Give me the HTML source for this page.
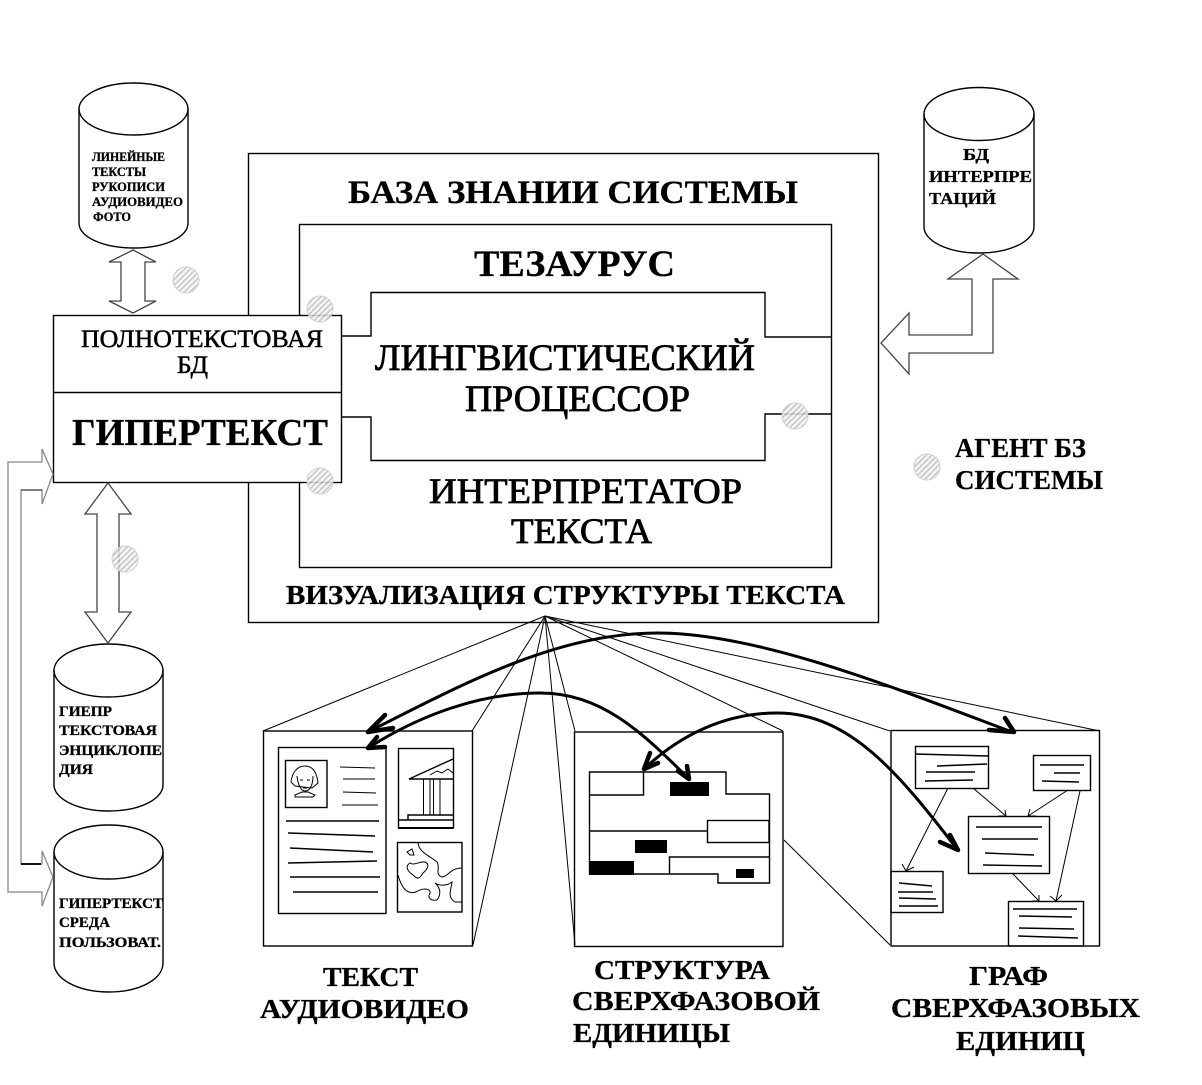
<!DOCTYPE html>
<html lang="ru"><head><meta charset="utf-8"><title>База знаний системы</title>
<style>
html,body{margin:0;padding:0;background:#fff}
svg{display:block}
text{font-family:"Liberation Serif","Noto Serif CJK SC",serif;fill:#000}
.b{font-weight:bold;stroke:#000;stroke-width:.3}
.s{fill:none;stroke:#000;stroke-width:1.4}
.t{fill:none;stroke:#000;stroke-width:1}
.g{fill:#fff;stroke:#444;stroke-width:1.3}
.c{fill:none;stroke:#000;stroke-width:3;stroke-linejoin:round;stroke-linecap:round}
.h{fill:none;stroke:#000;stroke-width:4.5;stroke-linecap:round}
</style></head><body>
<svg width="1202" height="1085" viewBox="0 0 1202 1085" xmlns="http://www.w3.org/2000/svg">
<defs>
<pattern id="hat" width="4" height="4" patternUnits="userSpaceOnUse" patternTransform="rotate(45)">
<rect width="4" height="4" fill="#f4f4f4"/><rect width="1.6" height="4" fill="#bdbdbd"/>
</pattern>
</defs>
<rect width="1202" height="1085" fill="#fff"/>

<!-- main boxes -->
<rect class="s" x="248.5" y="153.5" width="630" height="469"/>
<rect class="s" x="299.5" y="224.5" width="532" height="343"/>
<path class="s" d="M341 336H371V292.500H765V337H831"/>
<path class="s" d="M341 417H371V460.500H765V414H831"/>

<!-- left top box -->
<rect x="53.500" y="315.500" width="288" height="167" fill="#fff" stroke="#000" stroke-width="1.4"/>
<path class="s" d="M53 392.500H341"/>

<!-- fan lines -->
<g class="t">
<path d="M545 616L263 731"/><path d="M545 616L472 731"/><path d="M545 616L473 945"/>
<path d="M545 616L575 945"/><path d="M545 616L575 731"/><path d="M545 616L783 731"/>
<path d="M545 616L890 731"/><path d="M545 616L1100 731"/>
<path d="M784 840L890 945"/>
</g>

<!-- cylinders -->
<g class="s">
<path d="M79 109V223C79 237 103 248 134 248S188 237 188 223V109"/><ellipse cx="133.500" cy="109" rx="54.500" ry="26"/>
<path d="M924 114V227C924 241 948 253 979 253S1034 241 1034 227V114"/><ellipse cx="979" cy="114" rx="55" ry="26.500"/>
<path d="M54 670V785C54 799 78 811 109 811S163 799 163 785V670"/><ellipse cx="108.500" cy="670.500" rx="54.500" ry="26.500"/>
<path d="M54 852V963C54 979 78 992 109 992S163 979 163 963V852"/><ellipse cx="108.500" cy="852" rx="54.500" ry="27"/>
</g>

<!-- block arrows -->
<path class="g" d="M133 250L156 262H145V301H156L133 313L109 301H121V262H109Z"/>
<path class="g" d="M108 483L131 514H119V612H131L108 643L85 612H97V514H85Z"/>
<path class="g" d="M983 254L1018 279H993V353H909V374L881 343L909 313V335H972V279H948Z"/>
<path fill="none" stroke="#888" stroke-width="1.3" d="M42 462H8V892H42V906L53 877L42 851V864H21V490H42V504L53 474L42 449Z"/>
<path fill="none" stroke="#111" stroke-width="2" d="M21 864H41"/>
<path fill="none" stroke="#444" stroke-width="1.2" d="M21 490H42"/>

<!-- panel 1 -->
<rect class="s" x="263.500" y="731" width="209" height="215" fill="none"/>
<rect class="s" x="278.500" y="747.500" width="107.500" height="166"/>
<rect class="s" x="285.500" y="760.500" width="41.500" height="47"/>
<g class="t">
<path d="M291 782C292 774 296 766 305 766C314 766 317 774 318 783L312 788L295 786Z"/>
<path d="M297 776C298 785 301 791 305 791C310 791 313 785 313 776"/>
<path d="M295 795L302 792H308L315 795L313 797H295Z"/>
<path d="M300 780H303M307 780H310M303 788H307"/>
<path d="M340 767L375 768M343 779H375M343 792L376 793M342 805H378"/>
</g>
<g class="s">
<path d="M286 821H379M288 833L375 836M290 848L373 852M288 863L377 861M290 877H380M293 892H378"/>
<rect x="398.500" y="748.500" width="55" height="79.500"/>
<path d="M398 828H453" stroke-width="2"/>
<path d="M453 759L409 779H453"/>
<path d="M430 775L437 771L442 773L448 769L453 773" class="t"/>
<rect x="423.500" y="779" width="6.500" height="36" class="t"/>
<rect x="433.500" y="779" width="6.500" height="36" class="t"/>
<path d="M453 815H408V820M398 820H453"/>
<rect x="397.500" y="842.500" width="64.500" height="69.500"/>
</g>
<g class="t">
<path d="M418 842C418 852 430 856 437 862C441 868 434 874 442 877C448 877 450 868 462 868"/>
<path d="M398 875C401 886 406 895 416 892C424 887 431 889 430 893C427 898 431 901 437 900C441 895 441 888 435 883C439 886 447 886 452 882C451 890 447 897 455 902H462"/>
<path d="M410 863C414 866 420 861 425 862C430 864 428 869 423 873C419 880 417 879 413 875C407 871 405 866 410 863Z"/>
<path d="M407 852L412 849L414 855H410Z"/>
</g>

<!-- panel 2 -->
<rect class="s" x="574.500" y="732" width="208.500" height="214.500"/>
<g class="s">
<path d="M589.500 772H726V794H769.500V883H718V874H589.500Z"/>
<path d="M589.500 795H643.500V772M589 831H707M669.500 874V857H769"/>
<rect x="707.500" y="820.500" width="61.500" height="22"/>
</g>
<g fill="#000">
<rect x="670" y="782" width="39" height="14"/><rect x="635" y="840" width="32" height="13"/>
<rect x="589" y="861" width="45" height="14"/><rect x="736" y="869" width="18" height="9"/>
</g>

<!-- panel 3 -->
<rect class="s" x="891" y="730.500" width="208.500" height="215.500"/>
<g class="s" fill="none">
<rect x="915.500" y="746.500" width="73" height="42"/>
<rect x="1033.500" y="755.500" width="57" height="35"/>
<rect x="968.500" y="816.500" width="81" height="57"/>
<rect x="891" y="871.500" width="52" height="41"/>
<rect x="1008.500" y="901.500" width="75" height="44.500"/>
<path d="M915 754L988 756M937 766L987 764M926 772H975M925 781L973 780"/>
<path d="M1040 765H1084M1054 773H1080M1042 781L1079 782"/>
<path d="M976 827H1042M982 839H1038M985 853L1034 855M983 865L1042 866"/>
<path d="M899 883L932 886M898 892H933M899 898L936 899M899 906H938"/>
<path d="M1013 909H1077M1019 916L1072 917M1019 928L1074 929M1018 936L1078 938"/>
</g>
<g class="t">
<path d="M948 788L906 871M902 864L906 871L914 867"/>
<path d="M973 788L1006 816M1005 810L1006 816H998"/>
<path d="M1068 790L1028 816M1036 816H1028L1030 809"/>
<path d="M1080 791L1056 901M1050 896L1056 901L1062 895"/>
<path d="M1013 874L1039 901M1039 895V901H1032"/>
</g>

<!-- hatched circles -->
<g fill="url(#hat)" stroke="#cfcfcf" stroke-width="1" fill-opacity="0.85">
<circle cx="186" cy="280" r="13"/><circle cx="320" cy="309" r="13"/><circle cx="320" cy="481" r="13"/>
<circle cx="795" cy="416" r="13"/><circle cx="125" cy="559" r="13"/><circle cx="927" cy="467" r="13"/>
</g>

<!-- curved arrows -->
<path class="c" d="M368 732C470 680 560 633 658 633C760 633 900 690 1012 732"/>
<path class="c" d="M368 748C420 715 480 693 540 693C600 693 640 730 688 778"/>
<path class="c" d="M644 769C680 735 725 713 777 713C850 713 900 775 957 849"/>
<g class="h">
<path d="M368 732L385 715M368 732L393 728"/>
<path d="M368 748L377 737M368 748L385 747"/>
<path d="M644 769L650 753M644 769L658 763"/>
<path d="M689 779L687 766M689 779L678 771"/>
<path d="M1014 732L1005 718M1014 732L989 730"/>
<path d="M958 850L950 835M958 850L940 842"/>
</g>

<!-- labels -->
<g class="b" font-size="13">
<text x="92" y="161" textLength="73" lengthAdjust="spacingAndGlyphs">ЛИНЕЙНЫЕ</text>
<text x="92" y="176" textLength="54" lengthAdjust="spacingAndGlyphs">ТЕКСТЫ</text>
<text x="92" y="191" textLength="73" lengthAdjust="spacingAndGlyphs">РУКОПИСИ</text>
<text x="92" y="206" textLength="91" lengthAdjust="spacingAndGlyphs">АУДИОВИДЕО</text>
<text x="93" y="221" textLength="38" lengthAdjust="spacingAndGlyphs">ФОТО</text>
</g>
<g class="b" font-size="17">
<text x="963" y="160" textLength="26" lengthAdjust="spacingAndGlyphs">БД</text>
<text x="929" y="182" textLength="103" lengthAdjust="spacingAndGlyphs">ИНТЕРПРЕ</text>
<text x="929" y="204" textLength="67" lengthAdjust="spacingAndGlyphs">ТАЦИЙ</text>
</g>
<g class="b" font-size="15">
<text x="59" y="716" textLength="53" lengthAdjust="spacingAndGlyphs">ГИЕПР</text>
<text x="59" y="735" textLength="98" lengthAdjust="spacingAndGlyphs">ТЕКСТОВАЯ</text>
<text x="59" y="755" textLength="103" lengthAdjust="spacingAndGlyphs">ЭНЦИКЛОПЕ</text>
<text x="59" y="774" textLength="34" lengthAdjust="spacingAndGlyphs">ДИЯ</text>
<text x="59" y="908" textLength="104" lengthAdjust="spacingAndGlyphs">ГИПЕРТЕКСТ</text>
<text x="59" y="927" textLength="51" lengthAdjust="spacingAndGlyphs">СРЕДА</text>
<text x="59" y="947" textLength="102" lengthAdjust="spacingAndGlyphs">ПОЛЬЗОВАТ.</text>
</g>
<text x="81" y="347" font-size="25" textLength="242" lengthAdjust="spacingAndGlyphs" stroke="#000" stroke-width=".5">ПОЛНОТЕКСТОВАЯ</text>
<text x="177" y="373" font-size="25" textLength="31" lengthAdjust="spacingAndGlyphs" stroke="#000" stroke-width=".5">БД</text>
<text class="b" x="72" y="445" font-size="38" textLength="256" lengthAdjust="spacingAndGlyphs">ГИПЕРТЕКСТ</text>
<text class="b" x="348" y="203" font-size="33" textLength="450" lengthAdjust="spacingAndGlyphs">БАЗА ЗНАНИИ СИСТЕМЫ</text>
<text class="b" x="474" y="276" font-size="37" textLength="201" lengthAdjust="spacingAndGlyphs">ТЕЗАУРУС</text>
<text x="375" y="370" font-size="37" textLength="380" lengthAdjust="spacingAndGlyphs" stroke="#000" stroke-width=".8">ЛИНГВИСТИЧЕСКИЙ</text>
<text x="465" y="411" font-size="37" textLength="225" lengthAdjust="spacingAndGlyphs" stroke="#000" stroke-width=".8">ПРОЦЕССОР</text>
<text x="429" y="503" font-size="36" textLength="313" lengthAdjust="spacingAndGlyphs" stroke="#000" stroke-width=".8">ИНТЕРПРЕТАТОР</text>
<text x="511" y="543" font-size="36" textLength="141" lengthAdjust="spacingAndGlyphs" stroke="#000" stroke-width=".8">ТЕКСТА</text>
<text class="b" x="286" y="604" font-size="27" textLength="559" lengthAdjust="spacingAndGlyphs">ВИЗУАЛИЗАЦИЯ СТРУКТУРЫ ТЕКСТА</text>
<g class="b" font-size="27">
<text x="955" y="457" textLength="131" lengthAdjust="spacingAndGlyphs">АГЕНТ БЗ</text>
<text x="955" y="489" textLength="148" lengthAdjust="spacingAndGlyphs">СИСТЕМЫ</text>
<text x="323" y="986" textLength="95" lengthAdjust="spacingAndGlyphs">ТЕКСТ</text>
<text x="260" y="1018" textLength="209" lengthAdjust="spacingAndGlyphs">АУДИОВИДЕО</text>
<text x="594" y="979" textLength="176" lengthAdjust="spacingAndGlyphs">СТРУКТУРА</text>
<text x="572" y="1010" textLength="248" lengthAdjust="spacingAndGlyphs">СВЕРХФАЗОВОЙ</text>
<text x="573" y="1042" textLength="157" lengthAdjust="spacingAndGlyphs">ЕДИНИЦЫ</text>
<text x="969" y="985" textLength="79" lengthAdjust="spacingAndGlyphs">ГРАФ</text>
<text x="891" y="1017" textLength="249" lengthAdjust="spacingAndGlyphs">СВЕРХФАЗОВЫХ</text>
<text x="956" y="1050" textLength="129" lengthAdjust="spacingAndGlyphs">ЕДИНИЦ</text>
</g>
</svg>
</body></html>
